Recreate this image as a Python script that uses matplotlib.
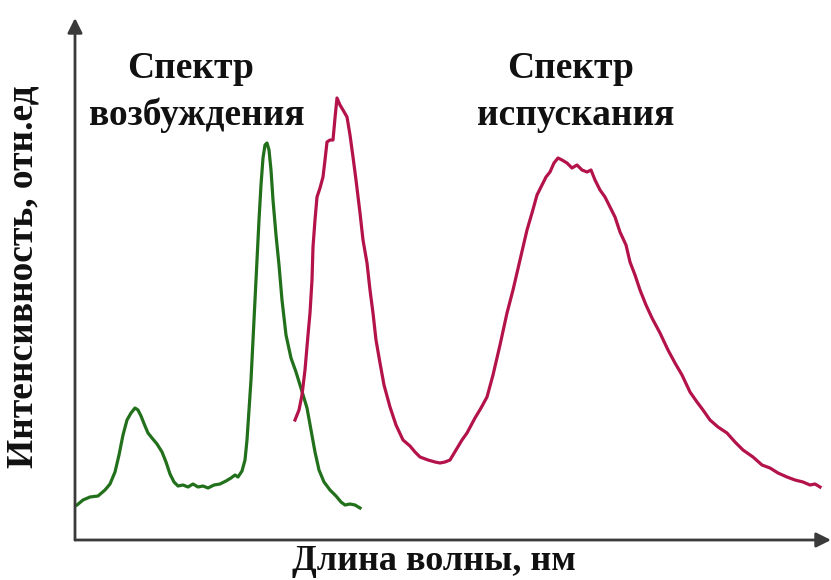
import matplotlib.pyplot as plt

plt.rcParams['font.family'] = ['Liberation Serif', 'DejaVu Serif']

# Wavelength (arb. units) and intensity (arb. units)
ex_wl = [2, 8, 15, 23, 30, 35, 40, 44, 48, 52, 56, 60, 63, 66, 70, 73, 77, 82, 87, 91,
         95, 99, 103, 108, 113, 118, 123, 128, 133, 139, 145, 151, 156, 160, 163, 167,
         170, 172, 174, 176, 178, 180, 182, 184, 186, 188, 190, 192, 194, 196, 198,
         201, 204, 207, 211, 216, 221, 225, 229, 232, 236, 240, 244, 249, 255, 261,
         266, 270, 275, 280, 285]
ex_int = [35, 40, 43, 44, 50, 56, 68, 85, 105, 120, 127, 132, 130, 124, 114, 107, 102,
          96, 88, 78, 66, 58, 54, 55, 53, 56, 53, 54, 52, 55, 56, 59, 62, 65, 63, 69,
          80, 100, 130, 160, 200, 240, 280, 320, 355, 382, 395, 397, 390, 370, 340,
          305, 275, 240, 205, 182, 168, 155, 142, 132, 110, 88, 70, 58, 50, 44, 38,
          35, 36, 35, 32]

em_wl = [220, 224, 227, 230, 233, 235, 237, 238, 240, 242, 245, 248, 250, 252, 255,
         258, 260, 262, 265, 268, 272, 275, 278, 281, 285, 288, 292, 295, 298, 301,
         305, 309, 315, 321, 328, 335, 340, 345, 353, 360, 365, 370, 375, 381, 387,
         392, 400, 406, 412, 418, 425, 432, 438, 445, 452, 457, 462, 467, 471, 475,
         479, 483, 487, 492, 497, 502, 507, 512, 516, 520, 525, 530, 535, 540, 545,
         551, 555, 560, 565, 571, 577, 585, 593, 600, 607, 615, 622, 628, 635, 643,
         652, 660, 668, 678, 687, 695, 703, 712, 720, 728, 735, 740, 745]
em_int = [120, 130, 145, 170, 205, 227, 260, 293, 320, 343, 352, 363, 380, 398, 400,
          400, 422, 442, 435, 430, 423, 405, 383, 360, 327, 300, 277, 250, 227, 200,
          177, 155, 133, 115, 100, 94, 88, 83, 80, 78, 77, 78, 80, 90, 100, 107, 122,
          132, 143, 165, 195, 227, 250, 280, 310, 327, 345, 355, 363, 368, 377, 382,
          380, 377, 372, 375, 370, 368, 370, 360, 350, 343, 333, 323, 308, 295, 278,
          265, 250, 235, 222, 207, 190, 177, 165, 148, 138, 130, 120, 113, 107, 98,
          90, 83, 75, 72, 67, 63, 60, 58, 55, 56, 53]

fig = plt.figure(figsize=(8.31, 5.80), dpi=100)
ax = fig.add_axes([75 / 831, 40 / 580, 756 / 831, 522 / 580])
ax.set_xlim(0, 756)
ax.set_ylim(0, 522)
for s in ax.spines.values():
    s.set_visible(False)
ax.set_xticks([])
ax.set_yticks([])

ax.plot(ex_wl, ex_int, color='#22701b', lw=2.3, solid_joinstyle='round')
ax.plot(em_wl, em_int, color='#b3124a', lw=2.3, solid_joinstyle='round')

# axes with arrow heads
arrow = dict(arrowstyle='-|>', color='#3a3a3a', lw=2, mutation_scale=22, shrinkA=0, shrinkB=0)
ax.annotate('', xy=(1, 0), xytext=(0, 0), xycoords='axes fraction', arrowprops=arrow)
ax.annotate('', xy=(0, 1), xytext=(0, 0), xycoords='axes fraction', arrowprops=arrow)

txt = dict(fontsize=27, fontweight='bold', ha='center', va='baseline', color='#111111')
ax.text(116, 462, 'Спектр', **txt)
ax.text(122, 415, 'возбуждения', **txt)
ax.text(496, 462, 'Спектр', **txt)
ax.text(501, 415, 'испускания', **txt)

ax.set_xlabel('Длина волны, нм', fontsize=26, fontweight='bold', color='#111111', va='center')
ax.xaxis.set_label_coords((434 - 75) / 756, -21 / 522)
ax.set_ylabel('Интенсивность, отн.ед', fontsize=27, fontweight='bold', color='#111111', va='center')
ax.yaxis.set_label_coords(-52 / 756, (540 - 277) / 522)

fig.savefig('out.png', dpi=100)
